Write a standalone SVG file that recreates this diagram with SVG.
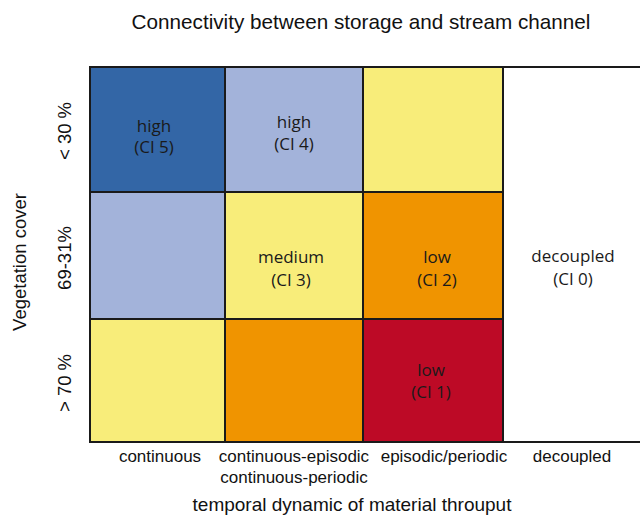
<svg xmlns="http://www.w3.org/2000/svg" width="640" height="516" viewBox="0 0 640 516">
<style>
.cell{stroke:#1a1a1a;stroke-width:2}
.lab{font-family:"Open Sans","Liberation Sans",sans-serif;font-size:17px;fill:#1a1a1a;text-anchor:middle}
.ax{font-family:"Liberation Sans",Arial,sans-serif;font-size:17px;fill:#111;text-anchor:middle}
.yl{font-family:"Liberation Sans",Arial,sans-serif;font-size:18.5px;fill:#111;text-anchor:middle}
.ttl{font-family:"Liberation Sans",Arial,sans-serif;font-size:20.7px;fill:#111;text-anchor:middle}
</style>
<rect width="640" height="516" fill="#fff"/>
<text class="ttl" x="361" y="29">Connectivity between storage and stream channel</text>
<g id="c11"><rect class="cell" x="90" y="67" width="135" height="125" fill="#3366a6"/><text class="lab" x="154" y="132">high</text><text class="lab" x="154" y="153">(CI 5)</text></g>
<g id="c12"><rect class="cell" x="225" y="67" width="138" height="125" fill="#a3b3da"/><text class="lab" x="294" y="128">high</text><text class="lab" x="294" y="150">(CI 4)</text></g>
<g id="c13"><rect class="cell" x="363" y="67" width="140" height="125" fill="#f8ed7a"/></g>
<g id="c21"><rect class="cell" x="90" y="192" width="135" height="127" fill="#a3b3da"/></g>
<g id="c22"><rect class="cell" x="225" y="192" width="138" height="127" fill="#f8ed7a"/><text class="lab" x="291" y="263">medium</text><text class="lab" x="291" y="286">(CI 3)</text></g>
<g id="c23"><rect class="cell" x="363" y="192" width="140" height="127" fill="#f09400"/><text class="lab" x="437" y="263">low</text><text class="lab" x="437" y="286">(CI 2)</text></g>
<g id="c31"><rect class="cell" x="90" y="319" width="135" height="123" fill="#f8ed7a"/></g>
<g id="c32"><rect class="cell" x="225" y="319" width="138" height="123" fill="#f09400"/></g>
<g id="c33"><rect class="cell" x="363" y="319" width="140" height="123" fill="#bd0a26"/><text class="lab" x="431" y="376">low</text><text class="lab" x="431" y="398">(CI 1)</text></g>
<g id="c4"><text class="lab" x="573" y="262">decoupled</text><text class="lab" x="573" y="285">(CI 0)</text></g>
<g id="lines"><line x1="503" y1="67" x2="640" y2="67" stroke="#1a1a1a" stroke-width="2"/><line x1="503" y1="442" x2="640" y2="442" stroke="#1a1a1a" stroke-width="2"/></g>
<g id="xlabels">
<text class="ax" x="160" y="462">continuous</text>
<text class="ax" x="294" y="462">continuous-episodic</text>
<text class="ax" x="294" y="483">continuous-periodic</text>
<text class="ax" x="444" y="462">episodic/periodic</text>
<text class="ax" x="572" y="462">decoupled</text>
<text class="ax" x="352" y="511" style="font-size:19px">temporal dynamic of material throuput</text>
</g>
<g id="ylabels">
<text class="yl" transform="translate(26,262) rotate(-90)">Vegetation cover</text>
<text class="yl" transform="translate(71,131) rotate(-90)">&lt; 30 %</text>
<text class="yl" transform="translate(71,258) rotate(-90)">69-31%</text>
<text class="yl" transform="translate(71,383) rotate(-90)">&gt; 70 %</text>
</g>
</svg>
